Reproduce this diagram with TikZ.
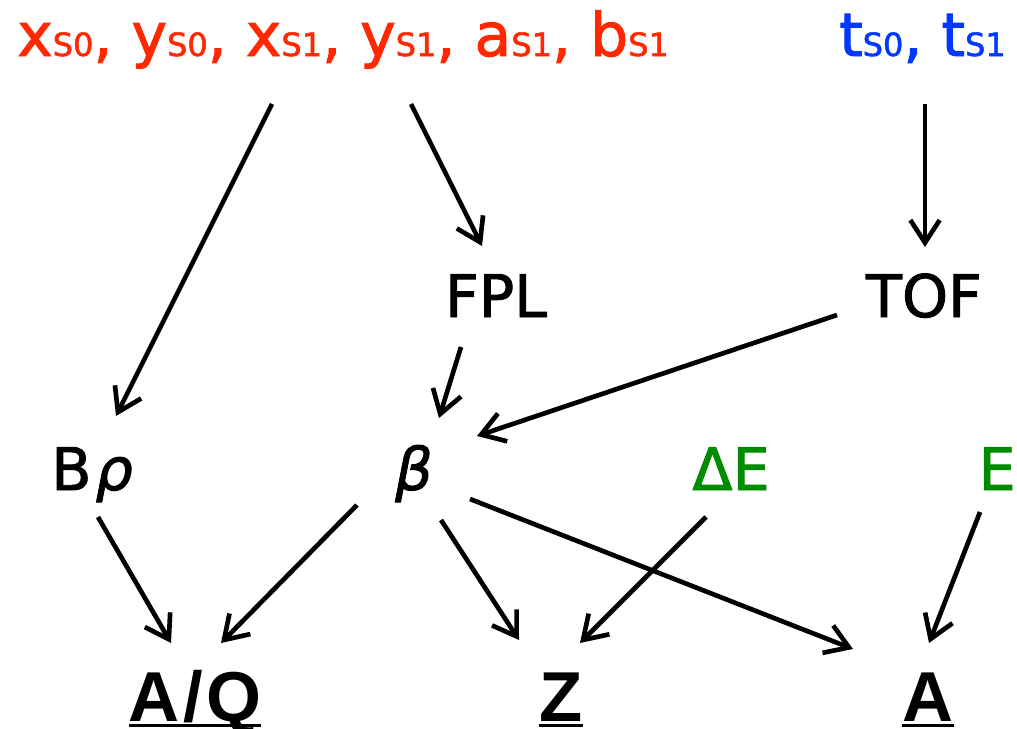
\documentclass[tikz,border=0pt]{standalone}
\usepackage{fontspec}
\setmainfont{DejaVu Sans}
\newfontfamily\medfont{DejaVu Sans}[FakeBold=1.6]
\newfontfamily\medital{DejaVu Sans Oblique}[FakeBold=1.6]
\newfontfamily\resfont{Liberation Sans Bold}
\usetikzlibrary{arrows.meta,calc}
\definecolor{myred}{RGB}{255,40,0}
\definecolor{myblue}{RGB}{0,56,255}
\definecolor{mygreen}{RGB}{0,140,0}
\newcommand\sbs[1]{{\fontsize{24pt}{28pt}\selectfont #1}}
\newcommand\myul[1]{\setbox0\hbox{#1}\rlap{\rule[-4.3pt]{\wd0}{2.3pt}}\box0}
\tikzset{
  toptext/.style={font=\medfont\fontsize{45pt}{54pt}\selectfont, inner sep=0pt},
  lbl/.style={font=\medfont\fontsize{44pt}{52pt}\selectfont, inner sep=0pt, anchor=base},
  res/.style={font=\resfont\fontsize{53pt}{60pt}\selectfont, inner sep=0pt, anchor=base},
  arr/.style={line width=3.5pt, -{Straight Barb[length=17pt,width=22pt,sharp]}}
}
\begin{document}
\begin{tikzpicture}[x=0.75pt,y=-0.75pt]
\fill[white] (0,0) rectangle (1017,728);
\useasboundingbox (0,0) rectangle (1017,728);
% top inputs
\node[toptext, text=myred, anchor=base west] (red) at (17,56)
  {x\sbs{S0}, y\sbs{S0}, x\sbs{S1}, y\sbs{S1}, a\sbs{S1}, b\sbs{S1}};
\node[toptext, text=myblue, anchor=base east] (blue) at (1006,56)
  {t\sbs{S0}, t\sbs{S1}};
% middle
\node[lbl] (fpl) at (496,317) {FPL};
\node[lbl] (tof) at (924,317) {TOF};
\node[lbl] (brho) at (92,490) {B\hspace{3pt}{\medital ρ}};
\node[lbl] (beta) at (414,490) {\medital β};
\node[lbl, text=mygreen] (dE) at (731,490) {ΔE};
\node[lbl, text=mygreen] (E) at (997,490) {E};
% results
\node[res] (AQ) at (195,721) {\myul{A\kern2.5pt/\kern2.5pt Q}};
\node[res] (Z) at (561,721) {\myul{Z}};
\node[res] (A) at (928,721) {\myul{A}};
% connectors
\draw[arr] ($(red.base west)+(255,48)$) -- ($(brho.base)+(24,-74)$);
\draw[arr] ($(red.base west)+(394,48)$) -- ($(fpl.base)+(-14,-71)$);
\draw[arr] ($(blue.base east)+(-81,48)$) -- ($(tof.base)+(1,-70)$);
\draw[arr] ($(fpl.base)+(-35,30)$) -- ($(beta.base)+(25,-72)$);
\draw[arr] ($(tof.base)+(-87,-2)$) -- ($(beta.base)+(63,-54)$);
\draw[arr] ($(brho.base)+(6,27)$) -- ($(AQ.base)+(-24,-78)$);
\draw[arr] ($(beta.base)+(-57,15)$) -- ($(AQ.base)+(26,-78)$);
\draw[arr] ($(beta.base)+(27,30)$) -- ($(Z.base)+(-42,-81)$);
\draw[arr] ($(beta.base)+(56,9)$) -- ($(A.base)+(-75,-72)$);
\draw[arr] ($(dE.base)+(-25,27)$) -- ($(Z.base)+(19,-78)$);
\draw[arr] ($(E.base)+(-17,22)$) -- ($(A.base)+(1,-78)$);
\end{tikzpicture}
\end{document}
